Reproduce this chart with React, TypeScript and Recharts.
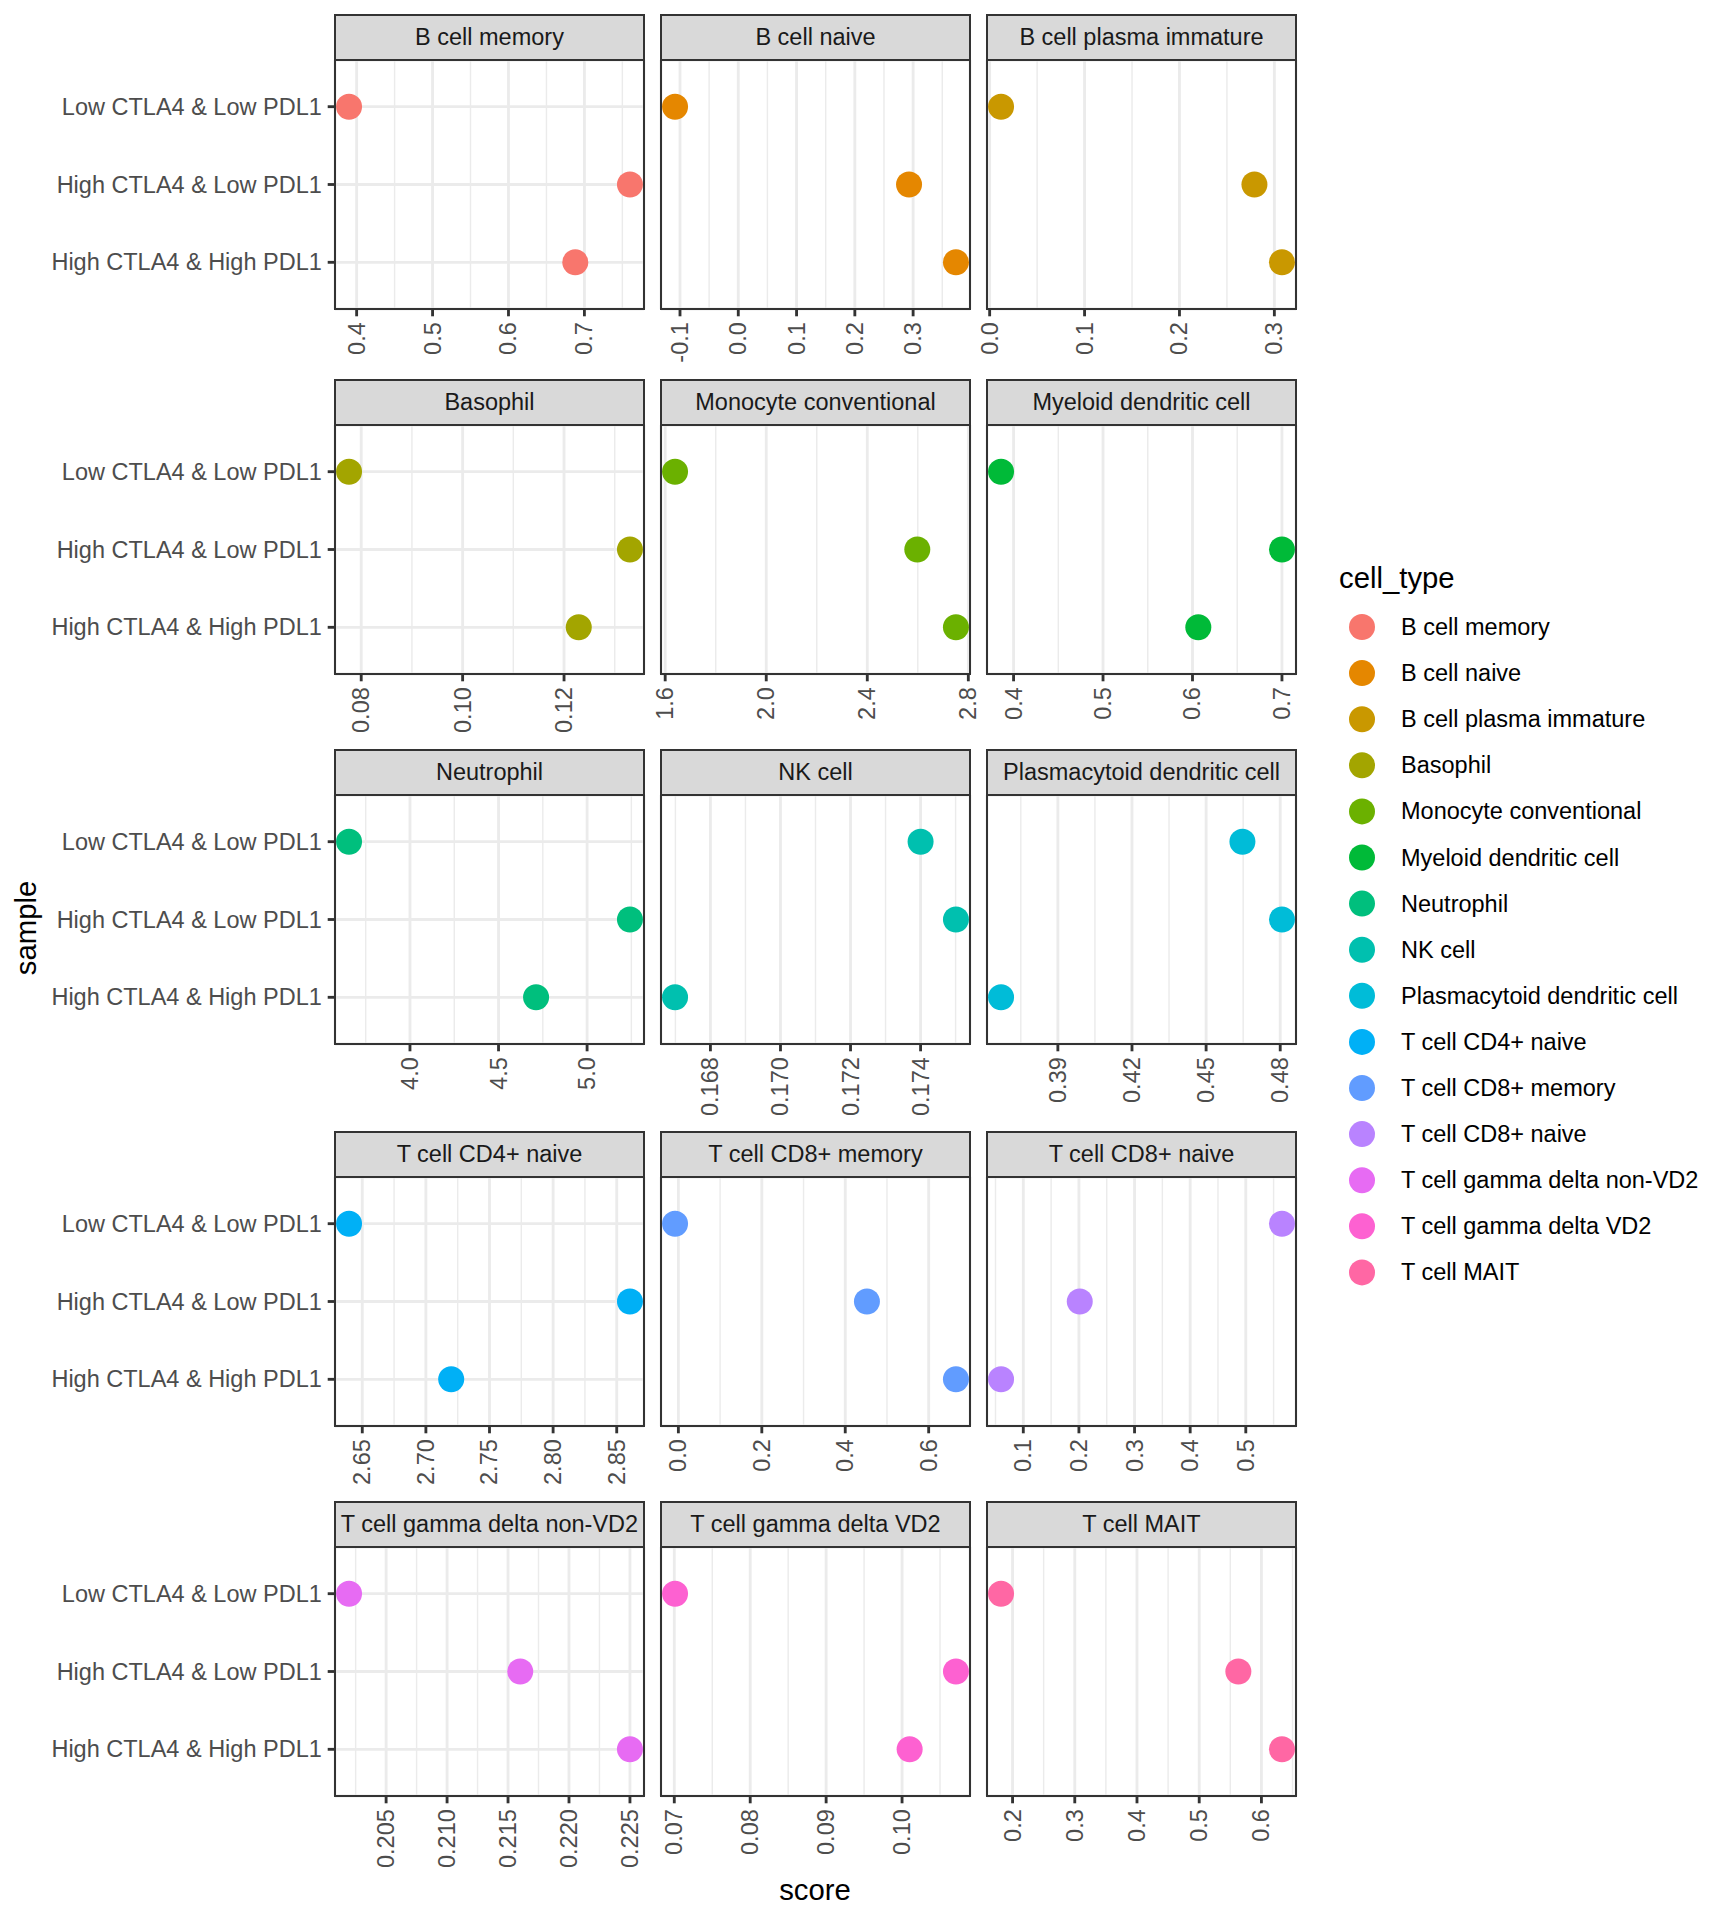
import React from "react";
import { ScatterChart, Scatter, XAxis, YAxis, CartesianGrid, ReferenceLine } from "recharts";

// y categories, top to bottom
const SAMPLES = ["Low CTLA4 & Low PDL1", "High CTLA4 & Low PDL1", "High CTLA4 & High PDL1"];

const CELL_TYPES = [
  "B cell memory",
  "B cell naive",
  "B cell plasma immature",
  "Basophil",
  "Monocyte conventional",
  "Myeloid dendritic cell",
  "Neutrophil",
  "NK cell",
  "Plasmacytoid dendritic cell",
  "T cell CD4+ naive",
  "T cell CD8+ memory",
  "T cell CD8+ naive",
  "T cell gamma delta non-VD2",
  "T cell gamma delta VD2",
  "T cell MAIT",
];

const COLORS = [
  "#F8766D", "#E58700", "#C99800", "#A3A500", "#6BB100",
  "#00BA38", "#00BF7D", "#00C0AF", "#00BCD8", "#00B0F6",
  "#619CFF", "#B983FF", "#E76BF3", "#FD61D1", "#FF67A4",
];

// scores, in SAMPLES order
const bCellMemory = [0.39, 0.76, 0.688];
const bCellNaive = [-0.1085, 0.293, 0.3735];
const bCellPlasma = [0.012, 0.279, 0.308];
const basophil = [0.0776, 0.133, 0.1229];
const monocyteConv = [1.639, 2.598, 2.751];
const myeloidDC = [0.386, 0.7, 0.6065];
const neutrophil = [3.656, 5.242, 4.712];
const nkCell = [0.174, 0.17501, 0.16699];
const plasmacytoidDC = [0.4647, 0.4807, 0.367];
const cd4Naive = [2.6396, 2.8604, 2.7199];
const cd8Memory = [-0.008, 0.452, 0.6654];
const cd8Naive = [0.565, 0.2015, 0.06];
const gdNonVD2 = [0.20196, 0.216, 0.225];
const gdVD2 = [0.0701, 0.1071, 0.101];
const mait = [0.1815, 0.5629, 0.633];

const SCORES = [
  bCellMemory, bCellNaive, bCellPlasma, basophil, monocyteConv,
  myeloidDC, neutrophil, nkCell, plasmacytoidDC, cd4Naive,
  cd8Memory, cd8Naive, gdNonVD2, gdVD2, mait,
];

// x tick labels per panel
const TICKS = [
  ["0.4", "0.5", "0.6", "0.7"],
  ["-0.1", "0.0", "0.1", "0.2", "0.3"],
  ["0.0", "0.1", "0.2", "0.3"],
  ["0.08", "0.10", "0.12"],
  ["1.6", "2.0", "2.4", "2.8"],
  ["0.4", "0.5", "0.6", "0.7"],
  ["4.0", "4.5", "5.0"],
  ["0.168", "0.170", "0.172", "0.174"],
  ["0.39", "0.42", "0.45", "0.48"],
  ["2.65", "2.70", "2.75", "2.80", "2.85"],
  ["0.0", "0.2", "0.4", "0.6"],
  ["0.1", "0.2", "0.3", "0.4", "0.5"],
  ["0.205", "0.210", "0.215", "0.220", "0.225"],
  ["0.07", "0.08", "0.09", "0.10"],
  ["0.2", "0.3", "0.4", "0.5", "0.6"],
];

const COL_X = [335, 661, 987];
const ROW_TOP = [15, 380, 750, 1132, 1502];
const PANEL_W = 309;
const PANEL_H = 249;
const STRIP_H = 45;
const AXIS_H = 110;
const SIDE = 20; // room for edge tick labels
const LW = 2.85;
const SMALL = 23.5;
const BIG = 29.3;
const FONT = "'Liberation Sans', Arial, Helvetica, sans-serif";

function Facet({ k }: { k: number }) {
  const row = Math.floor(k / 3);
  const col = k % 3;
  const x0 = COL_X[col];
  const top = ROW_TOP[row];
  const vals = SCORES[k];
  const color = COLORS[k];
  const labels = TICKS[k];
  const ticks = labels.map(Number);

  // ggplot default 5% expansion
  const lo = Math.min(...vals);
  const hi = Math.max(...vals);
  const pad = (hi - lo) * 0.05;
  const domain = [lo - pad, hi + pad];

  const step = ticks[1] - ticks[0];
  const minors: number[] = [];
  for (let v = ticks[0] - step / 2; v <= ticks[ticks.length - 1] + step; v += step) minors.push(v);

  const pts = vals.map((v, i) => ({ x: v, y: i }));
  const chartLeft = col === 0 ? 0 : x0 - SIDE;
  const chartW = col === 0 ? x0 + PANEL_W + SIDE : PANEL_W + 2 * SIDE;

  return (
    <>
      <div
        style={{
          position: "absolute",
          left: x0 - LW / 2,
          top: top - LW / 2,
          width: PANEL_W + LW,
          height: STRIP_H + LW,
          boxSizing: "border-box",
          border: `${LW}px solid #333333`,
          background: "#D9D9D9",
          display: "flex",
          alignItems: "center",
          justifyContent: "center",
          fontSize: SMALL,
          color: "#1A1A1A",
          whiteSpace: "nowrap",
        }}
      >
        {CELL_TYPES[k]}
      </div>
      <div style={{ position: "absolute", left: chartLeft, top: top + STRIP_H }}>
        <ScatterChart
          width={chartW}
          height={PANEL_H + AXIS_H}
          margin={{ top: 0, right: SIDE, bottom: 0, left: col === 0 ? 0 : SIDE }}
        >
          {minors.map((m) => (
            <ReferenceLine key={m} x={m} stroke="#EBEBEB" strokeWidth={LW / 2} />
          ))}
          <CartesianGrid stroke="#EBEBEB" strokeWidth={LW} />
          <XAxis
            dataKey="x"
            type="number"
            domain={domain}
            allowDataOverflow
            ticks={ticks}
            interval={0}
            height={AXIS_H}
            tickSize={7.3}
            tickMargin={5.9}
            axisLine={false}
            tickLine={{ stroke: "#333333", strokeWidth: LW }}
            tick={(p: any) => {
              const i = ticks.indexOf(p.payload.value);
              return (
                <text
                  x={p.x}
                  y={p.y}
                  transform={`rotate(-90 ${p.x} ${p.y})`}
                  textAnchor="end"
                  dominantBaseline="central"
                  fontSize={SMALL}
                  fill="#4D4D4D"
                >
                  {i >= 0 ? labels[i] : p.payload.value}
                </text>
              );
            }}
          />
          <YAxis
            dataKey="y"
            type="number"
            domain={[-0.6, 2.6]}
            reversed
            ticks={[0, 1, 2]}
            interval={0}
            width={col === 0 ? x0 : 0}
            tickSize={7.3}
            tickMargin={5.9}
            axisLine={false}
            tickLine={col === 0 ? { stroke: "#333333", strokeWidth: LW } : false}
            tick={
              col === 0
                ? (p: any) => (
                    <text x={p.x} y={p.y} textAnchor="end" dominantBaseline="central" fontSize={SMALL} fill="#4D4D4D">
                      {SAMPLES[p.payload.value]}
                    </text>
                  )
                : false
            }
          />
          <Scatter
            data={pts}
            fill={color}
            isAnimationActive={false}
            shape={(p: any) => <circle cx={p.cx} cy={p.cy} r={13} fill={color} />}
          />
        </ScatterChart>
      </div>
      <div
        style={{
          position: "absolute",
          left: x0 - LW / 2,
          top: top + STRIP_H - LW / 2,
          width: PANEL_W + LW,
          height: PANEL_H + LW,
          boxSizing: "border-box",
          border: `${LW}px solid #333333`,
          pointerEvents: "none",
        }}
      />
    </>
  );
}

export default function App() {
  return (
    <div
      style={{
        position: "absolute",
        left: 0,
        top: 0,
        width: 1728,
        height: 1920,
        background: "#FFFFFF",
        fontFamily: FONT,
      }}
    >
      <svg width={1728} height={1920} style={{ position: "absolute", left: 0, top: 0 }}>
        <text
          x={25}
          y={928}
          transform="rotate(-90 25 928)"
          textAnchor="middle"
          dominantBaseline="central"
          fontSize={BIG}
          fill="#000000"
        >
          sample
        </text>
        <text x={815} y={1889} textAnchor="middle" dominantBaseline="central" fontSize={BIG} fill="#000000">
          score
        </text>
        <text x={1339} y={577} dominantBaseline="central" fontSize={BIG} fill="#000000">
          cell_type
        </text>
        {CELL_TYPES.map((c, i) => (
          <g key={c}>
            <circle cx={1362} cy={627 + i * 46.1} r={13} fill={COLORS[i]} />
            <text x={1401} y={627 + i * 46.1} dominantBaseline="central" fontSize={SMALL} fill="#000000">
              {c}
            </text>
          </g>
        ))}
      </svg>
      {CELL_TYPES.map((_, k) => (
        <Facet key={k} k={k} />
      ))}
    </div>
  );
}
